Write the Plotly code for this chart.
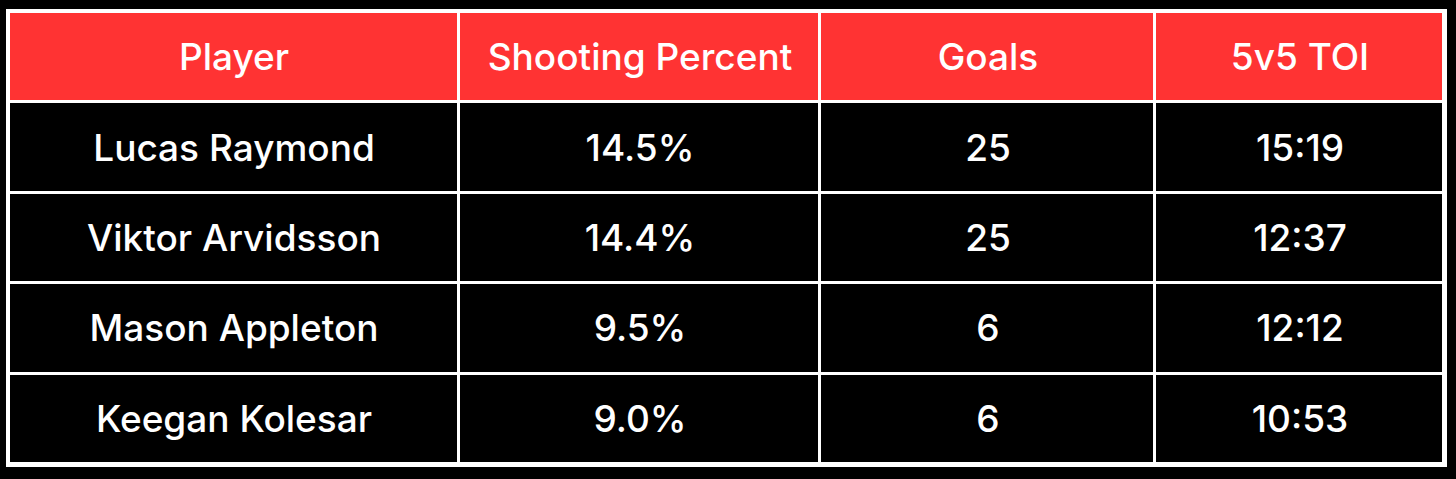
import numpy as np
import plotly.graph_objects as go

headers = ["Player", "Shooting Percent", "Goals", "5v5 TOI"]
players = ["Lucas Raymond", "Viktor Arvidsson", "Mason Appleton", "Keegan Kolesar"]
shooting_pct = [14.5, 14.4, 9.5, 9.0]
goals = [25, 25, 6, 6]
toi = ["15:19", "12:37", "12:12", "10:53"]

col_widths = [451, 361, 336, 289]
edges = np.concatenate([[0], np.cumsum(col_widths)])

rows = [[p, f"{s:.1f}%", str(g), t] for p, s, g, t in zip(players, shooting_pct, goals, toi)]
text = [headers] + rows
z = [[1] * 4] + [[0] * 4 for _ in rows]

fig = go.Figure(go.Heatmap(
    z=z,
    x=edges,
    y=np.arange(len(text) + 1),
    text=text,
    texttemplate="%{text}",
    textfont=dict(color="white", size=37, family="Inter", weight=500),
    colorscale=[[0, "#000000"], [1, "#FF3333"]],
    showscale=False,
    xgap=3,
    ygap=3,
    hoverinfo="skip",
))

fig.update_xaxes(range=[0, edges[-1]], showticklabels=False, showgrid=False,
                 zeroline=False, showline=True, mirror=True, linecolor="white", linewidth=3)
fig.update_yaxes(range=[len(text), 0], showticklabels=False, showgrid=False,
                 zeroline=False, showline=True, mirror=True, linecolor="white", linewidth=3)

fig.update_layout(
    width=1456, height=479,
    margin=dict(l=9, r=10, t=12, b=15),
    paper_bgcolor="black",
    plot_bgcolor="white",
)

# page body has a default margin; drop it so the table sits where the reference has it
fig.write_html("out.html", config={"displayModeBar": False},
               post_script="document.body.style.margin='0';document.body.style.background='black';")
